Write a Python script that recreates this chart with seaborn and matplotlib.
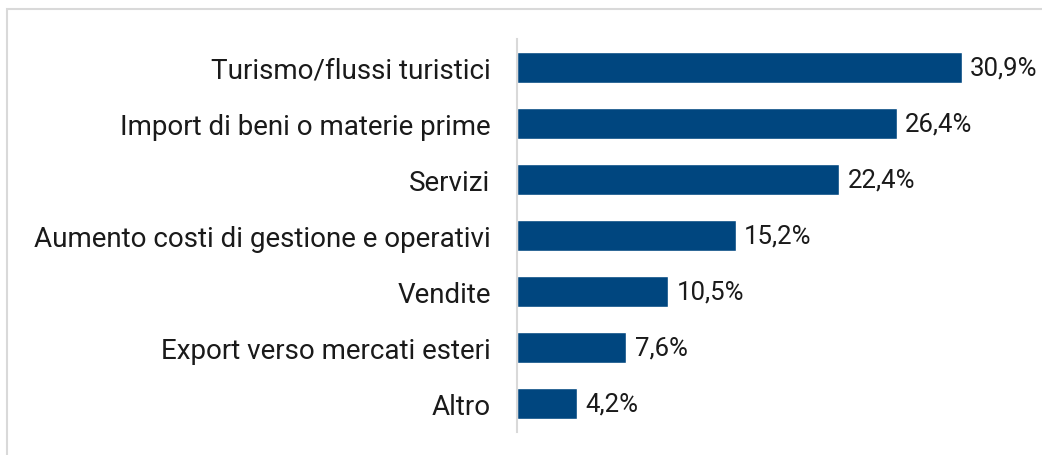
import matplotlib.pyplot as plt
import matplotlib.patches as patches
import seaborn as sns
import pandas as pd

categories = [
    'Turismo/flussi turistici',
    'Import di beni o materie prime',
    'Servizi',
    'Aumento costi di gestione e operativi',
    'Vendite',
    'Export verso mercati esteri',
    'Altro',
]
values = [30.9, 26.4, 22.4, 15.2, 10.5, 7.6, 4.2]
value_labels = ['30,9%', '26,4%', '22,4%', '15,2%', '10,5%', '7,6%', '4,2%']

df = pd.DataFrame({'categoria': categories, 'valore': values})

sns.set_theme(style='white')
plt.rcParams['font.family'] = ['Roboto', 'DejaVu Sans']

W, H = 1042, 456
fig = plt.figure(figsize=(W / 100, H / 100), dpi=100)
ax = fig.add_axes([517 / W, 1 - 433 / H, 518 / W, 393 / H])

sns.barplot(data=df, x='valore', y='categoria', color='#00467F',
            width=0.55, saturation=1, ax=ax)

ax.set_xlim(0, 36)
ax.set_ylim(6.5, -0.5)
ax.set_xlabel('')
ax.set_ylabel('')
ax.set_xticks([])
ax.tick_params(axis='y', length=0, pad=19, labelsize=20, labelcolor='#1a1a1a')
for s in ['top', 'right', 'bottom']:
    ax.spines[s].set_visible(False)
ax.spines['left'].set_color('#d9d9d9')
ax.spines['left'].set_linewidth(1.5)

for i, (v, lab) in enumerate(zip(values, value_labels)):
    ax.annotate(lab, (v, i), xytext=(6, 0), textcoords='offset points',
                va='center', ha='left', fontsize=18.5, color='#1a1a1a',
                annotation_clip=False)

# chart frame
fig.patches.append(patches.Rectangle((7 / W, -0.1), 1.2, 1 - 10 / H + 0.1,
                                     transform=fig.transFigure, fill=False,
                                     edgecolor='#d9d9d9', linewidth=1.5))

fig.savefig('out.png', dpi=100)
